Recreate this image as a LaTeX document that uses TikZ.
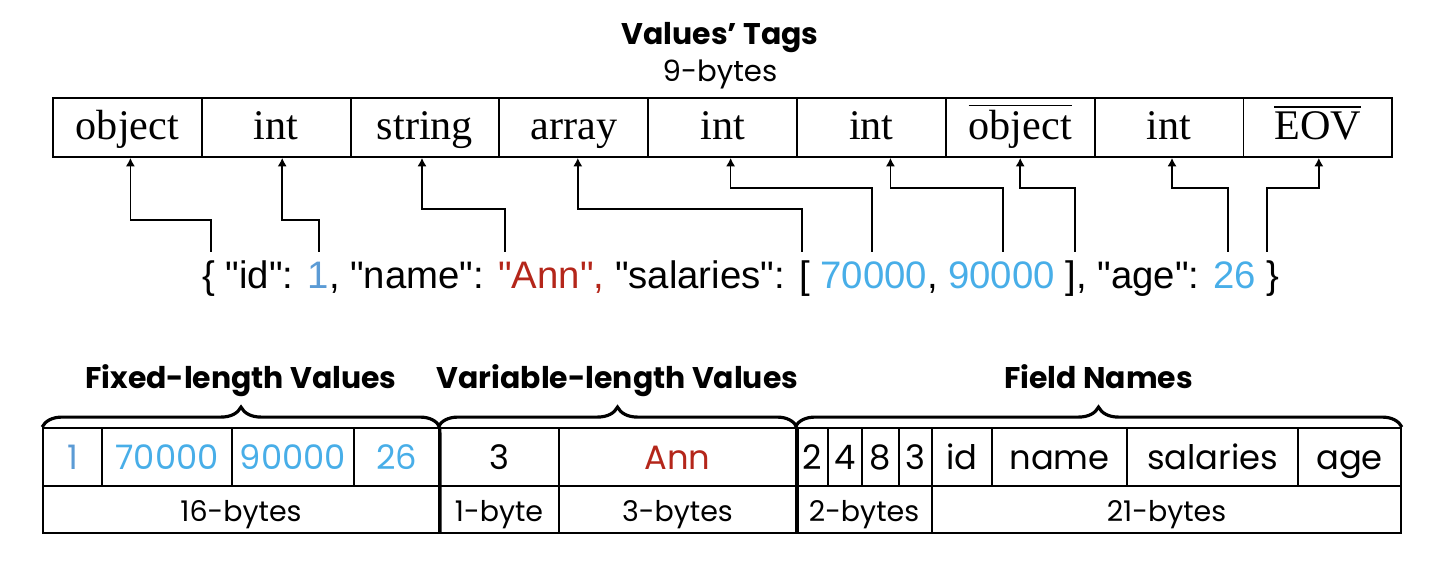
\documentclass[tikz,border=0pt]{standalone}
\usepackage{fontspec}
\setmainfont{Liberation Serif}
\newfontfamily\gothic{Poppins}
\newfontfamily\arial{Liberation Sans}
\usetikzlibrary{arrows.meta,decorations.pathreplacing}
\definecolor{idblue}{RGB}{91,155,213}
\definecolor{numblue}{RGB}{72,174,232}
\definecolor{annred}{RGB}{180,38,26}
\tikzset{
  tagcell/.style={draw, line width=0.5pt, minimum width=1.488cm, minimum height=0.59cm, inner sep=0pt, text height=3.3mm, text depth=0.8mm, font=\fontsize{12}{14}\selectfont},
  tagarrow/.style={-{Latex[length=2.4pt,width=2.6pt]}, line width=0.45pt},
  valcell/.style={draw, line width=0.5pt, minimum height=0.58cm, inner sep=0pt, text height=3.0mm, text depth=0.4mm, font=\gothic\fontsize{9.6}{11}\selectfont},
  sizecell/.style={draw, line width=0.5pt, minimum height=0.47cm, inner sep=0pt, text height=2.8mm, text depth=0.4mm, font=\gothic\fontsize{8.1}{10}\selectfont},
  groupline/.style={line width=0.9pt},
  groupbrace/.style={decorate, decoration={brace, amplitude=2mm}, line width=0.9pt},
  grouptitle/.style={font=\gothic\bfseries\fontsize{8.5}{10}\selectfont}
}
\begin{document}
\begin{tikzpicture}[x=0.01cm, y=-0.01cm]
\useasboundingbox (0,0) rectangle (1440,562);

% tags header
\node[grouptitle, anchor=base] (tagtitle) at (720,45) {Values’ Tags};
\node[anchor=base, font=\gothic\fontsize{8.3}{10}\selectfont] (tagsize) at (720,82) {9-bytes};

\foreach \t [count=\i] in {object,int,string,array,int,int,$\overline{\mbox{object}}$,int,$\overline{\mbox{EOV}}$}
  \node[tagcell] (tag\i) at ({53+(\i-0.5)*148.8},127.5) {\t};

% the record
\node[anchor=base, font=\arial\fontsize{10.9}{13}\selectfont] (json) at (741,289)
  {\{ "id": \textcolor{idblue}{1}, "name": \textcolor{annred}{"Ann",} "salaries": [ \textcolor{numblue}{70000}, \textcolor{numblue}{90000} ], "age": \textcolor{numblue}{26} \}};

% value -> tag
\foreach \c/\jx/\hy/\dx in {1/211/220/3, 2/319/220/6, 3/505/209/-3, 4/802/209/4, 5/872/188/8, 6/1003/188/19, 7/1075/188/0, 8/1228/188/3, 9/1267/188/1} {
  \coordinate (j\c) at (\jx,252);
  \draw[tagarrow] (j\c) -- ++(0,{\hy-252}) -| ([xshift=\dx*0.1mm]tag\c.south);
}

% encoded values
\foreach \l/\r/\v [count=\i] in {43/102/\textcolor{idblue}{1}, 102/232/\textcolor{numblue}{70000}, 232/354/\textcolor{numblue}{90000}, 354/439/\textcolor{numblue}{26},
    439/559/3, 559/796/\textcolor{annred}{Ann}, 796/828/2, 828/862/4, 862/899/8, 899/932/3, 932/992/id, 992/1127/name, 1127/1298/salaries, 1298/1401/age}
  \node[valcell, minimum width={(\r-\l)*0.1mm}] (val\i) at ({(\l+\r)/2},457) {\v};

\foreach \l/\r/\v [count=\i] in {43/439/16-bytes, 439/559/1-byte, 559/796/3-bytes, 796/932/2-bytes, 932/1401/21-bytes}
  \node[sizecell, minimum width={(\r-\l)*0.1mm}] (size\i) at ({(\l+\r)/2},509.5) {\v};

\draw[groupline] (val4.north east) -- (size1.south east);
\draw[groupline] (val6.north east) -- (size3.south east);

% groups
\draw[groupbrace] (val1.north west) -- (val4.north east)
  node[grouptitle, midway, anchor=base, yshift=3.9mm] (fixedtitle) {Fixed-length Values};
\draw[groupbrace] (val5.north west) -- (val6.north east)
  node[grouptitle, midway, anchor=base, yshift=3.9mm] (vartitle) {Variable-length Values};
\draw[groupbrace] (val7.north west) -- (val14.north east)
  node[grouptitle, midway, anchor=base, yshift=3.9mm] (nametitle) {Field Names};
\end{tikzpicture}
\end{document}
